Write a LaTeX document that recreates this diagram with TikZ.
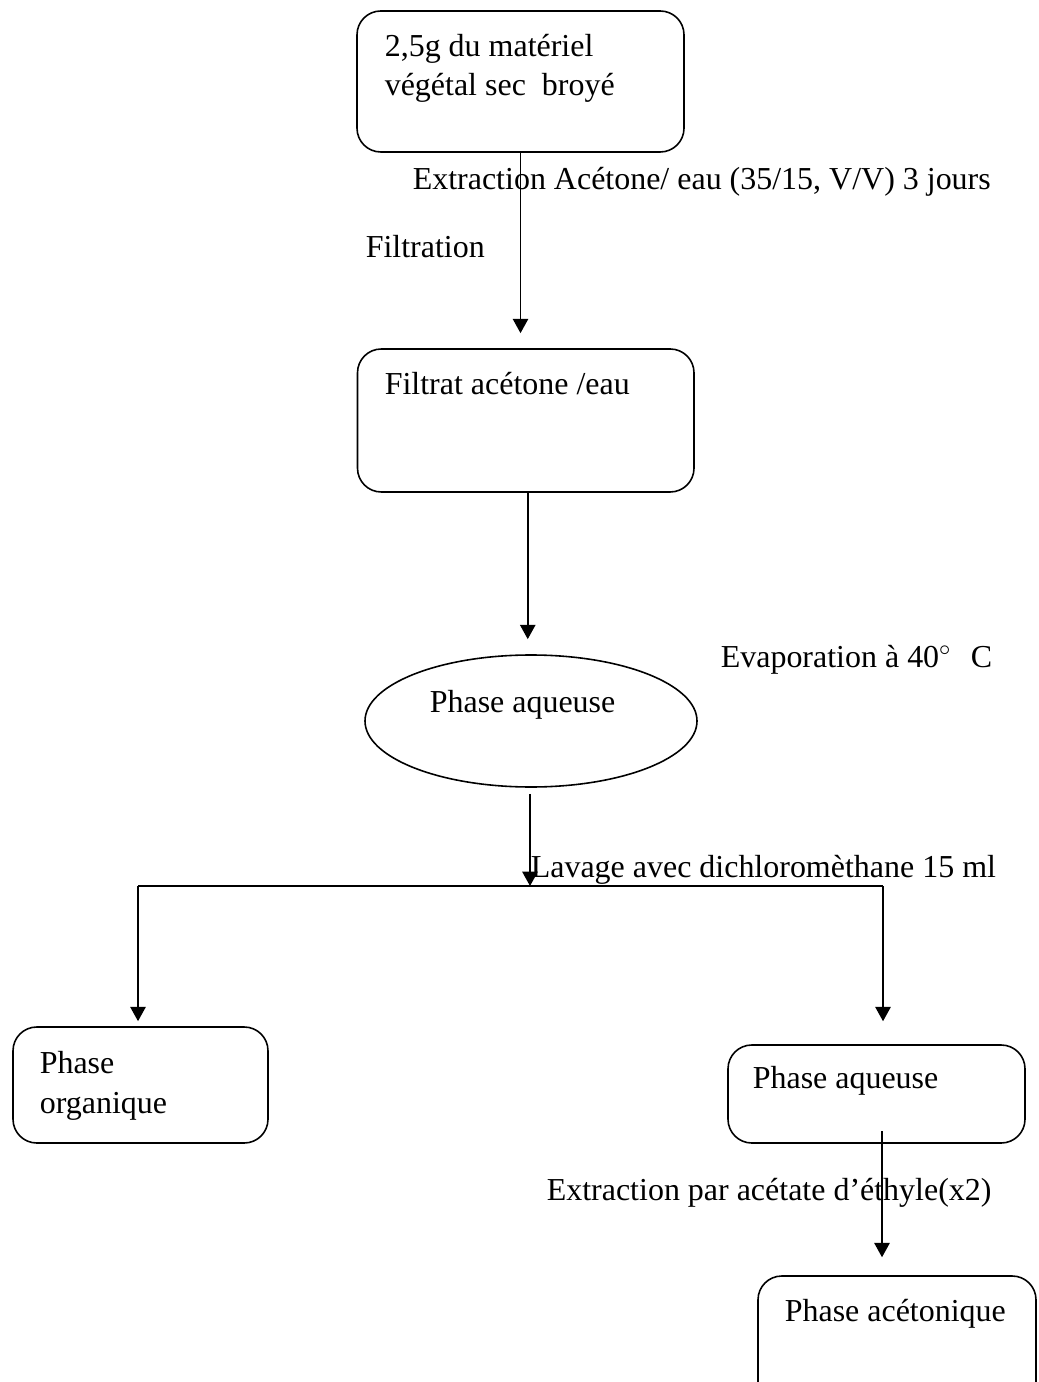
\documentclass[tikz,border=0pt]{standalone}
\usepackage{fontspec}
\setmainfont{Liberation Serif}
\usetikzlibrary{arrows.meta,positioning,shapes.geometric}
\newdimen\pxu \pxu=0.3785pt

\begin{document}
\begin{tikzpicture}[x=0.3785pt,y=-0.3785pt,>={Triangle[length=5.4pt,width=5.8pt]},line width=0.6pt,
box/.style={draw,rounded corners=9pt,inner sep=0pt},
oval/.style={draw,ellipse,inner sep=0pt},
txt/.style={anchor=base west,inner sep=0pt,align=left,font=\fontsize{12.1}{15}\selectfont},
lbl/.style={anchor=base west,inner sep=0pt,font=\fontsize{12.1}{15}\selectfont}]
\useasboundingbox (0,0) rectangle (1038,1382);
% boxes
\node[box,minimum width=327*\pxu,minimum height=141*\pxu] (raw) at (520.5,81.5) {};
\node[txt] (rawtxt) at (384,96) {2,5g du matériel\\végétal sec\ \ broyé};
\node[box,minimum width=336.5*\pxu,minimum height=143*\pxu] (filtrat) at (525.75,420.5) {};
\node[txt] (filtrattxt) at (384,395) {Filtrat acétone /eau};
\node[oval,minimum width=332*\pxu,minimum height=132*\pxu] (aq1) at (531,721) {};
\node[txt] (aq1txt) at (429,712) {Phase aqueuse};
\node[box,minimum width=255*\pxu,minimum height=116*\pxu] (orga) at (140.5,1085) {};
\node[txt] (orgatxt) at (39,1113) {Phase\\organique};
\node[box,minimum width=297*\pxu,minimum height=98*\pxu] (aq2) at (876.5,1094) {};
\node[txt] (aq2txt) at (752,1088) {Phase aqueuse};
\node[box,minimum width=278*\pxu,minimum height=160*\pxu] (aceto) at (897,1356) {};
\node[txt] (acetotxt) at (784,1321) {Phase acétonique};
% step labels
\node[lbl] (extr) at (412,190) {Extraction Acétone/ eau (35/15, V/V) 3 jours};
\node[lbl] (filt) at (365,258) {Filtration};
\node[lbl] (evap) at (720,667) {Evaporation à 40$^{\circ}$\hspace{0.6em}C};
\node[lbl] (lav) at (530,877) {Lavage avec dichloromèthane 15 ml};
\node[lbl] (ethyl) at (546,1200) {Extraction par acétate d’éthyle(x2)};
% split points
\coordinate (split) at (530,886);
\coordinate (jl) at (138,886);
\coordinate (jr) at (883,886);
\coordinate (out2) at (882,1131);
% connectors
\draw[->,shorten >=5.7pt] (raw.south) -- (raw.south |- filtrat.north);
\draw[->,shorten >=5.7pt] ([xshift=2*\pxu]filtrat.south) -- ([xshift=2*\pxu]filtrat.south |- aq1.north);
\draw[->,shorten <=2.3pt] ([xshift=-1*\pxu]aq1.south) -- (split);
\draw (jl) -- (jr);
\draw[->,shorten >=1.9pt] (jl) -- (jl |- orga.north);
\draw[->,shorten >=8.7pt] (jr) -- (jr |- aq2.north);
\draw[->,shorten >=6.8pt] (out2) -- (out2 |- aceto.north);
\end{tikzpicture}
\end{document}
